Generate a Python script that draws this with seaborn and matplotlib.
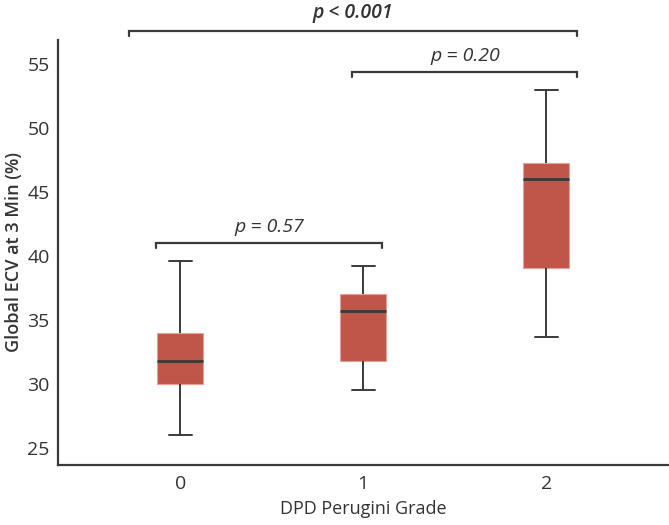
import pandas as pd
import matplotlib
matplotlib.use("Agg")
import matplotlib.pyplot as plt
import seaborn as sns

# box summary per grade
grades = ["0", "1", "2"]
whisker_low = [26.0, 29.5, 33.7]
q1 = [30.0, 31.8, 39.1]
median = [31.8, 35.7, 46.0]
q3 = [34.0, 37.0, 47.3]
whisker_high = [39.6, 39.2, 53.0]

# significance brackets: start, end, height, label
bracket_start = [-0.13, 0.94, -0.28]
bracket_end = [1.10, 2.17, 2.17]
bracket_y = [41.0, 54.35, 57.6]
bracket_text = ["p = 0.57", "p = 0.20", "p < 0.001"]
bracket_bold = [False, False, True]

# five points per group reproduce the quartiles exactly
rows = []
for i, g in enumerate(grades):
    for v in (whisker_low[i], q1[i], median[i], q3[i], whisker_high[i]):
        rows.append({"grade": g, "ecv": v})
df = pd.DataFrame(rows)

sns.set_style("white")
plt.rcParams["font.family"] = ["Open Sans", "DejaVu Sans"]

fig = plt.figure(figsize=(6.69, 5.25), dpi=100)
ax = fig.add_axes([0.0867, 0.1143, 0.9133, 0.8095])

dark = "#3a3a3a"
sns.boxplot(
    data=df, x="grade", y="ecv", ax=ax, width=0.25, color="#c0554a",
    saturation=1, showfliers=False,
    boxprops=dict(facecolor="#c0554a", edgecolor="#e8a198", linewidth=0.8),
    medianprops=dict(color=dark, linewidth=2),
    whiskerprops=dict(color=dark, linewidth=1.4),
    capprops=dict(color=dark, linewidth=1.4),
)

ax.set_xlim(-0.667, 2.67)
ax.set_ylim(23.68, 56.87)
ax.set_yticks([25, 30, 35, 40, 45, 50, 55])
ax.tick_params(axis="both", length=0, labelsize=14, labelcolor="#333333")
ax.tick_params(axis="x", pad=7)
ax.tick_params(axis="y", pad=6)

sns.despine(ax=ax)
for side in ["left", "bottom"]:
    ax.spines[side].set_color(dark)
    ax.spines[side].set_linewidth(1.6)

ax.set_xlabel("DPD Perugini Grade", fontsize=13, color="#333333", labelpad=5)
ax.set_ylabel("Global ECV at 3 Min (%)", fontsize=13, color="#333333",
              fontweight="semibold", labelpad=3)

for xs, xe, y, txt, bold in zip(bracket_start, bracket_end, bracket_y,
                                bracket_text, bracket_bold):
    drop = 0.4
    ax.plot([xs, xs, xe, xe], [y - drop, y, y, y - drop], color=dark,
            linewidth=1.6, clip_on=False, solid_joinstyle="miter")
    ax.text((xs + xe) / 2, y + 0.6, txt, ha="center", va="bottom",
            fontsize=14, style="italic", color="#333333",
            fontweight="semibold" if bold else "normal", clip_on=False)

fig.savefig("out.png", dpi=100)
